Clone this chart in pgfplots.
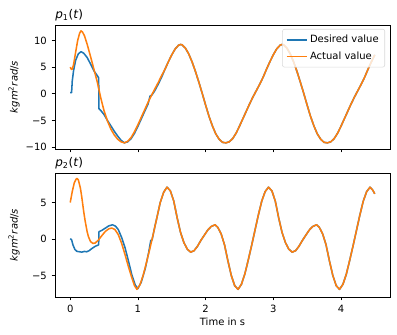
\documentclass[border=0pt]{standalone}
\usepackage{fontspec}
\setmainfont{DejaVu Sans}
\usepackage{pgfplots}
\pgfplotsset{compat=1.18}
\definecolor{cblue}{HTML}{1F77B4}
\definecolor{corange}{HTML}{FF7F0E}

\pgfplotsset{panel/.style={
  scale only axis, width=251.25pt, height=93pt,
  xmin=-0.225, xmax=4.725,
  axis line style={line width=0.6pt},
  tick style={line width=0.6pt, black},
  major tick length=2.6pt, tick align=outside,
  xtick pos=bottom, ytick pos=left,
  xtick={0,1,2,3,4},
  tick label style={font=\fontsize{7.5}{9}\selectfont},
  label style={font=\fontsize{7.5}{9}\selectfont},
  every axis title shift=0pt,
  title style={at={(axis description cs:0,1)}, anchor=base west, inner sep=0pt,
    yshift=4.5pt, font=\fontsize{9}{10}\selectfont},
  ylabel={\textit{kgm}\textsuperscript{2}\textit{rad}/\textit{s}},
  ylabel style={at={(axis description cs:-0.1224,0.5)}, anchor=center},
  every axis plot/.append style={line width=1.15pt, line join=round},
}}

\begin{document}
\begin{tikzpicture}
\useasboundingbox (-41.25pt,-28.5pt) rectangle (256.5pt,222.75pt);

% p1
\begin{axis}[panel, at={(0,111pt)}, anchor=south west,
  ymin=-10.35, ymax=12.9,
  ytick={-10,-5,0,5,10}, yticklabels={−10,−5,0,5,10},
  xticklabels={},
  title={\textit{p}\textsubscript{1}(\textit{t})},
  legend style={at={(1,1)}, anchor=north east, xshift=-3.75pt, yshift=-3pt,
    draw=black!15, rounded corners=1.5pt, fill=white, fill opacity=0.8, text opacity=1,
    font=\fontsize{7.5}{9}\selectfont, inner sep=2.5pt, row sep=1pt},
  legend cell align=left,
  legend image code/.code={\draw[#1] (0pt,0pt) -- (15pt,0pt);}]
\addplot[cblue] coordinates {
(0,0.2)(0.02,0.2)(0.03,2.4)(0.05,4.4)(0.08,6.3)(0.12,7.5)(0.16,7.9)(0.20,7.6)
(0.25,6.8)(0.30,5.6)(0.35,4.3)(0.40,3.4)(0.42,3.0)(0.425,-2.8)(0.45,-3.1)
(0.50,-3.9)(0.55,-5.0)(0.60,-6.0)(0.65,-7.0)(0.70,-7.9)(0.75,-8.7)
(0.80,-9.2)(0.85,-9.0)(0.90,-8.4)(0.95,-7.4)(1.00,-6.1)(1.05,-4.7)(1.10,-3.3)
(1.15,-1.9)(1.18,-0.4)(1.20,-0.3)(1.22,0.0)(1.25,0.6)(1.30,1.8)(1.35,3.1)
(1.40,4.6)(1.45,6.0)(1.50,7.3)(1.55,8.4)(1.60,9.1)(1.63,9.25)(1.65,9.2)
(1.70,8.6)(1.75,7.5)(1.80,6.0)(1.85,4.2)(1.90,2.2)(1.95,0.1)(2.00,-2.1)
(2.05,-4.2)(2.10,-6.0)(2.15,-7.5)(2.20,-8.5)(2.25,-9.1)(2.30,-9.2)
(2.35,-9.0)(2.40,-8.4)(2.45,-7.4)(2.50,-6.1)(2.55,-4.7)(2.60,-3.3)(2.65,-1.9)
(2.70,-0.6)(2.75,0.6)(2.80,1.8)(2.85,3.1)(2.90,4.6)(2.95,6.0)(3.00,7.3)
(3.05,8.4)(3.10,9.1)(3.13,9.25)(3.15,9.2)(3.20,8.6)(3.25,7.5)(3.30,6.0)
(3.35,4.2)(3.40,2.2)(3.45,0.1)(3.50,-2.1)(3.55,-4.2)(3.60,-6.0)(3.65,-7.5)
(3.70,-8.5)(3.75,-9.1)(3.80,-9.2)(3.85,-9.0)(3.90,-8.4)(3.95,-7.4)(4.00,-6.1)
(4.05,-4.7)(4.10,-3.3)(4.15,-1.9)(4.20,-0.6)(4.25,0.6)(4.30,1.8)(4.35,3.1)
(4.40,4.6)(4.45,6.0)(4.50,7.3)};
\addlegendentry{Desired value}
\addplot[corange] coordinates {
(0,5.0)(0.015,4.6)(0.03,4.6)(0.05,5.5)(0.08,7.8)(0.11,10.0)(0.14,11.4)(0.16,11.8)
(0.18,11.6)(0.21,10.9)(0.25,9.3)(0.30,7.0)(0.35,4.6)(0.40,2.2)(0.45,-0.7)
(0.50,-3.2)(0.55,-5.1)(0.60,-6.6)(0.65,-7.7)(0.70,-8.5)(0.75,-9.0)(0.80,-9.2)
(0.85,-8.9)(0.90,-8.2)(0.95,-7.1)(1.00,-5.8)(1.05,-4.4)(1.10,-3.0)(1.15,-1.6)
(1.20,-0.3)(1.25,0.9)(1.30,2.1)(1.35,3.4)
(1.40,4.6)(1.45,6.0)(1.50,7.3)(1.55,8.4)(1.60,9.1)(1.63,9.25)(1.65,9.2)
(1.70,8.6)(1.75,7.5)(1.80,6.0)(1.85,4.2)(1.90,2.2)(1.95,0.1)(2.00,-2.1)
(2.05,-4.2)(2.10,-6.0)(2.15,-7.5)(2.20,-8.5)(2.25,-9.1)(2.30,-9.2)
(2.35,-9.0)(2.40,-8.4)(2.45,-7.4)(2.50,-6.1)(2.55,-4.7)(2.60,-3.3)(2.65,-1.9)
(2.70,-0.6)(2.75,0.6)(2.80,1.8)(2.85,3.1)(2.90,4.6)(2.95,6.0)(3.00,7.3)
(3.05,8.4)(3.10,9.1)(3.13,9.25)(3.15,9.2)(3.20,8.6)(3.25,7.5)(3.30,6.0)
(3.35,4.2)(3.40,2.2)(3.45,0.1)(3.50,-2.1)(3.55,-4.2)(3.60,-6.0)(3.65,-7.5)
(3.70,-8.5)(3.75,-9.1)(3.80,-9.2)(3.85,-9.0)(3.90,-8.4)(3.95,-7.4)(4.00,-6.1)
(4.05,-4.7)(4.10,-3.3)(4.15,-1.9)(4.20,-0.6)(4.25,0.6)(4.30,1.8)(4.35,3.1)
(4.40,4.6)(4.45,6.0)(4.50,7.3)};
\addlegendentry{Actual value}
\end{axis}

% p2
\begin{axis}[panel, at={(0,0)}, anchor=south west,
  ymin=-7.95, ymax=9.05,
  ytick={-5,0,5}, yticklabels={−5,0,5},
  xticklabels={0,1,2,3,4},
  title={\textit{p}\textsubscript{2}(\textit{t})},
  xlabel={Time in s},
  xlabel style={at={(axis description cs:0.5,0)}, anchor=center, yshift=-18.75pt}]
\addplot[cblue] coordinates {
(0,0.05)(0.02,-0.1)(0.04,-0.8)(0.07,-1.45)(0.10,-1.7)(0.14,-1.75)(0.17,-1.8)
(0.21,-1.7)(0.245,-1.75)(0.28,-1.6)(0.32,-1.3)(0.37,-1.0)(0.42,-0.8)(0.425,1.0)
(0.47,1.2)(0.52,1.5)(0.57,1.8)(0.625,1.95)(0.67,1.75)(0.71,1.3)(0.76,0.2)
(0.81,-1.2)(0.86,-3.0)(0.91,-4.9)(0.96,-6.3)(1.0,-6.8)(1.05,-5.9)(1.11,-4.0)
(1.16,-1.8)(1.19,-0.2)(1.21,-0.1)(1.25,1.7)(1.28,2.9)(1.33,5.0)(1.38,6.4)(1.43,7.1)
(1.48,6.6)(1.53,5.2)(1.58,2.9)(1.63,0.9)(1.68,-0.5)(1.73,-1.4)(1.78,-1.8)
(1.83,-1.6)(1.88,-1.0)(1.93,-0.2)(1.98,0.5)(2.03,1.2)(2.08,1.7)(2.14,1.95)
(2.18,1.6)(2.23,0.7)(2.28,-0.8)(2.33,-3.0)(2.38,-5.0)(2.43,-6.4)(2.48,-6.9)
(2.53,-6.2)(2.58,-4.8)(2.63,-2.9)(2.68,-0.9)(2.73,1.2)(2.78,3.3)(2.83,5.2)
(2.88,6.5)(2.93,7.1)(2.98,6.6)(3.03,5.2)(3.08,2.9)(3.13,0.9)(3.18,-0.5)
(3.23,-1.4)(3.28,-1.8)(3.33,-1.6)(3.38,-1.0)(3.43,-0.2)(3.48,0.5)(3.53,1.2)
(3.58,1.7)(3.64,1.95)(3.68,1.6)(3.73,0.7)(3.78,-0.8)(3.83,-3.0)(3.88,-5.0)
(3.93,-6.4)(3.98,-6.9)(4.03,-6.2)(4.08,-4.8)(4.13,-2.9)(4.18,-0.9)(4.23,1.2)
(4.28,3.3)(4.33,5.2)(4.38,6.5)(4.43,7.1)(4.47,6.7)(4.50,6.2)};
\addplot[corange] coordinates {
(0,5.0)(0.03,6.5)(0.06,7.7)(0.09,8.25)(0.10,8.3)(0.12,8.1)(0.15,7.0)(0.17,5.8)
(0.20,3.7)(0.22,2.5)(0.25,1.0)(0.27,0.3)(0.30,-0.35)(0.335,-0.6)(0.37,-0.55)
(0.42,-0.1)(0.47,0.5)(0.52,1.05)(0.57,1.4)(0.615,1.5)(0.66,1.3)(0.71,0.6)
(0.76,-0.6)(0.81,-2.15)(0.86,-3.8)(0.91,-5.3)(0.95,-6.4)(0.985,-6.9)(1.03,-6.3)
(1.08,-4.9)(1.13,-3.1)(1.18,-1.2)(1.23,0.8)(1.28,2.9)(1.33,5.0)(1.38,6.4)(1.43,7.1)
(1.48,6.6)(1.53,5.2)(1.58,2.9)(1.63,0.9)(1.68,-0.5)(1.73,-1.4)(1.78,-1.8)
(1.83,-1.6)(1.88,-1.0)(1.93,-0.2)(1.98,0.5)(2.03,1.2)(2.08,1.7)(2.14,1.95)
(2.18,1.6)(2.23,0.7)(2.28,-0.8)(2.33,-3.0)(2.38,-5.0)(2.43,-6.4)(2.48,-6.9)
(2.53,-6.2)(2.58,-4.8)(2.63,-2.9)(2.68,-0.9)(2.73,1.2)(2.78,3.3)(2.83,5.2)
(2.88,6.5)(2.93,7.1)(2.98,6.6)(3.03,5.2)(3.08,2.9)(3.13,0.9)(3.18,-0.5)
(3.23,-1.4)(3.28,-1.8)(3.33,-1.6)(3.38,-1.0)(3.43,-0.2)(3.48,0.5)(3.53,1.2)
(3.58,1.7)(3.64,1.95)(3.68,1.6)(3.73,0.7)(3.78,-0.8)(3.83,-3.0)(3.88,-5.0)
(3.93,-6.4)(3.98,-6.9)(4.03,-6.2)(4.08,-4.8)(4.13,-2.9)(4.18,-0.9)(4.23,1.2)
(4.28,3.3)(4.33,5.2)(4.38,6.5)(4.43,7.1)(4.47,6.7)(4.50,6.2)};
\end{axis}
\end{tikzpicture}
\end{document}
